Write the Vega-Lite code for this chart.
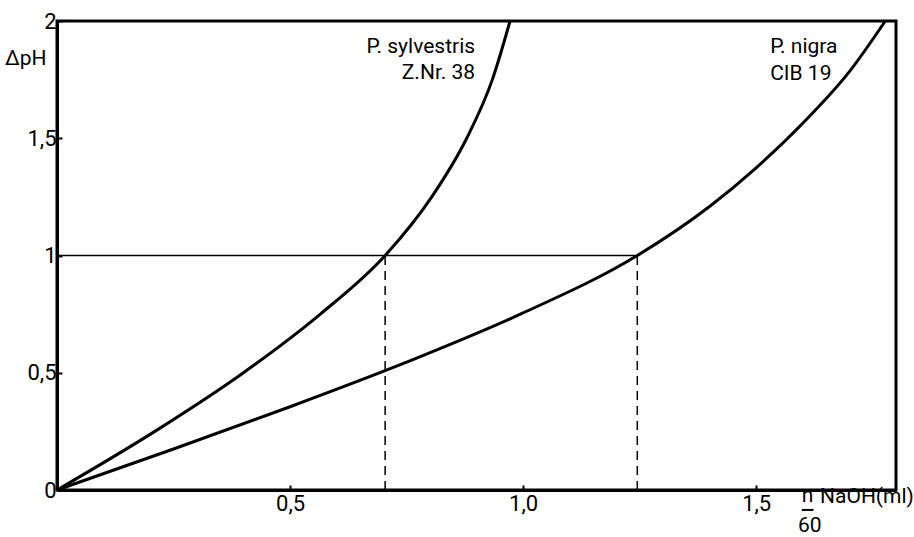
{
  "$schema": "https://vega.github.io/schema/vega-lite/v6.json",
  "width": 839,
  "height": 469,
  "autosize": {"type": "none"},
  "padding": {"left": 57, "top": 21, "right": 18, "bottom": 47},
  "background": "white",
  "config": {
    "view": {"stroke": "black", "strokeWidth": 3},
    "font": "Roboto",
    "axis": {"grid": false, "domainColor": "black", "domainWidth": 3, "tickColor": "black", "labelColor": "black", "labelFont": "Roboto", "labelFontSize": 22}
  },
  "datasets": {
    "curves": [
      {"series": "sylvestris", "x": 0, "y": 0},
      {"series": "sylvestris", "x": 0.21, "y": 0.25},
      {"series": "sylvestris", "x": 0.4, "y": 0.5},
      {"series": "sylvestris", "x": 0.565, "y": 0.75},
      {"series": "sylvestris", "x": 0.704, "y": 1.0},
      {"series": "sylvestris", "x": 0.804, "y": 1.25},
      {"series": "sylvestris", "x": 0.879, "y": 1.5},
      {"series": "sylvestris", "x": 0.934, "y": 1.75},
      {"series": "sylvestris", "x": 0.972, "y": 2.0},
      {"series": "nigra", "x": 0, "y": 0},
      {"series": "nigra", "x": 0.25, "y": 0.175},
      {"series": "nigra", "x": 0.5, "y": 0.355},
      {"series": "nigra", "x": 0.75, "y": 0.545},
      {"series": "nigra", "x": 1.0, "y": 0.755},
      {"series": "nigra", "x": 1.245, "y": 1.0},
      {"series": "nigra", "x": 1.4, "y": 1.209},
      {"series": "nigra", "x": 1.5, "y": 1.374},
      {"series": "nigra", "x": 1.6, "y": 1.564},
      {"series": "nigra", "x": 1.7, "y": 1.784},
      {"series": "nigra", "x": 1.777, "y": 2.0}
    ],
    "dashed": [
      {"id": "a", "x": 0.704, "y": 0},
      {"id": "a", "x": 0.704, "y": 1},
      {"id": "b", "x": 1.245, "y": 0},
      {"id": "b", "x": 1.245, "y": 1}
    ],
    "hline": [
      {"x": 0, "y": 1},
      {"x": 1.245, "y": 1}
    ],
    "labelsRight": [
      {"x": 0.897, "y": 1.89, "t": "P. sylvestris"},
      {"x": 0.897, "y": 1.78, "t": "Z.Nr.  38"}
    ],
    "labelsLeft": [
      {"x": 1.53, "y": 1.89, "t": "P. nigra"},
      {"x": 1.53, "y": 1.775, "t": "CIB 19"},
      {"x": 1.637, "y": -0.03, "t": "NaOH(ml)"}
    ],
    "labelsCenter": [
      {"x": -0.067, "y": 1.84, "t": "ΔpH"},
      {"x": 1.61, "y": -0.025, "t": "n"},
      {"x": 1.615, "y": -0.155, "t": "60"}
    ],
    "frac": [
      {"x": 1.598, "y": -0.085},
      {"x": 1.623, "y": -0.085}
    ]
  },
  "layer": [
    {
      "data": {"name": "hline"},
      "mark": {"type": "line", "color": "black", "strokeWidth": 1.5},
      "encoding": {
        "x": {"field": "x", "type": "quantitative", "scale": {"domain": [0, 1.8], "nice": false},
              "axis": {"values": [0.5, 1, 1.5], "format": ".1f", "labelExpr": "replace(datum.label, '.', ',')", "title": null, "tickSize": -5, "tickWidth": 2, "labelPadding": 8}},
        "y": {"field": "y", "type": "quantitative", "scale": {"domain": [0, 2], "nice": false},
              "axis": {"values": [0, 0.5, 1, 1.5, 2], "labelExpr": "replace(format(datum.value, '~g'), '.', ',')", "title": null, "tickSize": -5, "tickWidth": 2, "labelPadding": 6}}
      }
    },
    {
      "data": {"name": "dashed"},
      "mark": {"type": "line", "color": "black", "strokeWidth": 1.5, "strokeDash": [9, 6]},
      "encoding": {
        "x": {"field": "x", "type": "quantitative"},
        "y": {"field": "y", "type": "quantitative"},
        "detail": {"field": "id"}
      }
    },
    {
      "data": {"name": "curves"},
      "mark": {"type": "line", "color": "black", "strokeWidth": 3, "interpolate": "monotone"},
      "encoding": {
        "x": {"field": "x", "type": "quantitative"},
        "y": {"field": "y", "type": "quantitative"},
        "detail": {"field": "series"}
      }
    },
    {
      "data": {"name": "frac"},
      "mark": {"type": "line", "color": "black", "strokeWidth": 2, "clip": false},
      "encoding": {
        "x": {"field": "x", "type": "quantitative"},
        "y": {"field": "y", "type": "quantitative"}
      }
    },
    {
      "data": {"name": "labelsRight"},
      "mark": {"type": "text", "align": "right", "baseline": "middle", "fontSize": 21, "color": "black"},
      "encoding": {
        "x": {"field": "x", "type": "quantitative"},
        "y": {"field": "y", "type": "quantitative"},
        "text": {"field": "t"}
      }
    },
    {
      "data": {"name": "labelsLeft"},
      "mark": {"type": "text", "align": "left", "baseline": "middle", "fontSize": 21, "color": "black", "clip": false},
      "encoding": {
        "x": {"field": "x", "type": "quantitative"},
        "y": {"field": "y", "type": "quantitative"},
        "text": {"field": "t"}
      }
    },
    {
      "data": {"name": "labelsCenter"},
      "mark": {"type": "text", "align": "center", "baseline": "middle", "fontSize": 21, "color": "black", "clip": false},
      "encoding": {
        "x": {"field": "x", "type": "quantitative"},
        "y": {"field": "y", "type": "quantitative"},
        "text": {"field": "t"}
      }
    }
  ]
}
